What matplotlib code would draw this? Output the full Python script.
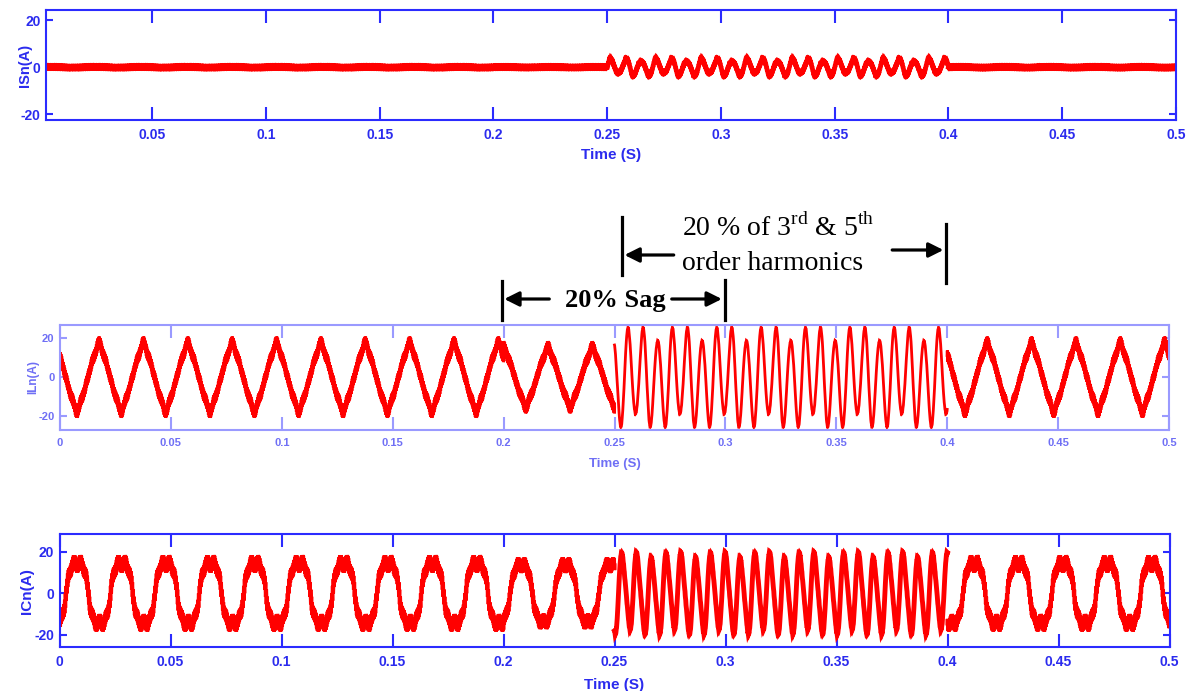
import numpy as np
import matplotlib.pyplot as plt
from matplotlib.transforms import blended_transform_factory

# time segments (s): normal, 20% sag, 3rd & 5th harmonics, normal
seg_edges = [0.0, 0.2, 0.25, 0.4, 0.5]
orders = [1, 3, 5, 6, 7]       # harmonic orders of 50 Hz
f0 = 50.0
f_sw = 3000.0                  # switching ripple that makes the thick band

# source current ISn
isn_t0 = [0.0, 0.0, 0.2500, 0.0]
isn_amps = [[0.15, 0, 0, 0, 0], [0.1, 0, 0, 0, 0], [0.3, 3.2, 0.5, 0, 0], [0.15, 0, 0, 0, 0]]
isn_ripple = [0.2, 0.2, 0.2, 0.2]

# load current ILn
iln_t0 = [0.0126, 0.0150, 0.2545, 0.0130]
iln_amps = [[15.5, -1.2, 0.8, 0, -0.6], [13.5, -1.0, 0.8, 0, -0.5],
            [3, 23, 1.5, 0, 0], [15.5, -1.2, 0.8, 0, -0.6]]
iln_ripple = [2.7, 2.7, 0.3, 2.7]

# compensating current ICn
icn_t0 = [0.0030, 0.0030, 0.2518, 0.0070]
icn_amps = [[16.5, 2.5, 0, 0, 1.5], [15.5, 2, 0, 0, 1.2],
            [1.5, 18, 0, 2.5, 0], [16.5, 2.5, 0, 0, 1.5]]
icn_ripple = [2.6, 2.6, 0.4, 2.6]

xticks = [0, 0.05, 0.1, 0.15, 0.2, 0.25, 0.3, 0.35, 0.4, 0.45, 0.5]
yticks = [-20, 0, 20]

plt.rcParams['mathtext.fontset'] = 'custom'
plt.rcParams['mathtext.rm'] = 'Liberation Serif'

sans = ['Liberation Sans', 'DejaVu Sans']
serif = ['Liberation Serif', 'DejaVu Serif']


def wave(t, t0, amps, ripple):
    w = 2 * np.pi * f0
    y = np.zeros_like(t)
    for k, a in zip(orders, amps):
        y += a * np.sin(k * w * (t - t0))
    y += ripple * np.sin(2 * np.pi * f_sw * t)
    return y


def draw(ax, t0s, ampss, ripples, lws):
    for i in range(4):
        n = int((seg_edges[i + 1] - seg_edges[i]) * 200000) + 1
        t = np.linspace(seg_edges[i], seg_edges[i + 1], n)
        ax.plot(t, wave(t, t0s[i], ampss[i], ripples[i]), color='#ff0000',
                lw=lws[i], solid_joinstyle='miter')


def style(ax, xlim, ylim, fcol, lcol, tsize, labsize, ylab, ylab_x, xlab_y, xlab_size):
    ax.set_xticks(xticks)
    ax.set_xticklabels(['%g' % v for v in xticks])
    ax.set_yticks(yticks)
    ax.set_yticklabels(['%g' % v for v in yticks])
    ax.set_xlim(xlim)
    ax.set_ylim(ylim)
    for s in ax.spines.values():
        s.set_color(fcol)
        s.set_linewidth(1.5)
    ax.tick_params(axis='x', direction='in', top=True, length=9.5, width=1.5,
                   color=fcol, labelcolor=lcol, pad=5.5)
    ax.tick_params(axis='y', direction='in', right=True, length=5, width=1.5,
                   color=fcol, labelcolor=lcol, pad=4)
    for lab in ax.get_xticklabels() + ax.get_yticklabels():
        lab.set_family(sans)
        lab.set_fontweight('bold')
        lab.set_fontsize(tsize)
    ax.set_ylabel(ylab, color=lcol, fontsize=labsize, fontweight='bold', family=sans)
    ax.yaxis.label.set_va('center')
    ax.yaxis.set_label_coords(ylab_x, 0.5)
    ax.set_xlabel('Time (S)', color=lcol, fontsize=xlab_size, fontweight='bold', family=sans)
    ax.xaxis.label.set_va('center')
    ax.xaxis.set_label_coords(0.5, xlab_y)


W, H = 1192, 691
fig = plt.figure(figsize=(W / 100, H / 100), dpi=100)

ax1 = fig.add_axes([46 / W, 1 - 120 / H, 1130 / W, 110 / H])
ax2 = fig.add_axes([60 / W, 1 - 430 / H, 1109 / W, 105 / H])
ax3 = fig.add_axes([59.5 / W, 1 - 647.3 / H, 1110 / W, 113 / H])

draw(ax1, isn_t0, isn_amps, isn_ripple, [3.4, 3.4, 3.4, 3.4])
draw(ax2, iln_t0, iln_amps, iln_ripple, [2.2, 2.2, 2.0, 2.2])
draw(ax3, icn_t0, icn_amps, icn_ripple, [2.8, 2.8, 3.5, 2.8])

style(ax1, (0.0033, 0.5), (-22.5, 24.4), '#2b2bff', '#2b2bee', 10, 10.5,
      'ISn(A)', -0.019, -0.32, 11)
style(ax2, (0, 0.5), (-27, 26.7), '#9a9aff', '#6f6ff5', 8, 8.5,
      'ILn(A)', -0.024, -0.32, 9.5)
style(ax3, (0, 0.5), (-26, 28.4), '#2b2bff', '#2b2bee', 10, 11,
      'ICn(A)', -0.029, -0.33, 11)

# annotations above the load current plot (x in data, y in figure pixels)
tr = blended_transform_factory(ax2.transData, fig.transFigure)


def fy(py):
    return 1 - py / H


bar_kw = dict(color='black', lw=2.3, transform=tr, clip_on=False)
arr_kw = dict(arrowstyle='-|>', color='black', lw=2.3, mutation_scale=22,
              shrinkA=0, shrinkB=0)

# 3rd & 5th harmonics interval
ax2.plot([0.2532, 0.2532], [fy(217), fy(275)], **bar_kw)
ax2.plot([0.3996, 0.3996], [fy(224), fy(283)], **bar_kw)
ax2.annotate('', xy=(0.2545, fy(255)), xycoords=tr, xytext=(0.2767, fy(255)),
             textcoords=tr, arrowprops=arr_kw, annotation_clip=False)
ax2.annotate('', xy=(0.3983, fy(250)), xycoords=tr, xytext=(0.3752, fy(250)),
             textcoords=tr, arrowprops=arr_kw, annotation_clip=False)
ax2.text(0.2803, fy(228), r'20 % of 3$^{\rm rd}$ & 5$^{\rm th}$', transform=tr,
         ha='left', va='center', fontsize=20, family=serif, color='black')
ax2.text(0.2803, fy(263), 'order harmonics', transform=tr,
         ha='left', va='center', fontsize=20, family=serif, color='black')

# sag interval
ax2.plot([0.1994, 0.1994], [fy(281), fy(320)], **bar_kw)
ax2.plot([0.2997, 0.2997], [fy(280), fy(320)], **bar_kw)
ax2.annotate('', xy=(0.2003, fy(299)), xycoords=tr, xytext=(0.2206, fy(299)),
             textcoords=tr, arrowprops=arr_kw, annotation_clip=False)
ax2.annotate('', xy=(0.2984, fy(299)), xycoords=tr, xytext=(0.2758, fy(299)),
             textcoords=tr, arrowprops=arr_kw, annotation_clip=False)
ax2.text(0.2503, fy(300), '20% Sag', transform=tr, ha='center', va='center',
         fontsize=19, fontweight='bold', family=serif, color='black')

fig.savefig('out.png', dpi=100)
